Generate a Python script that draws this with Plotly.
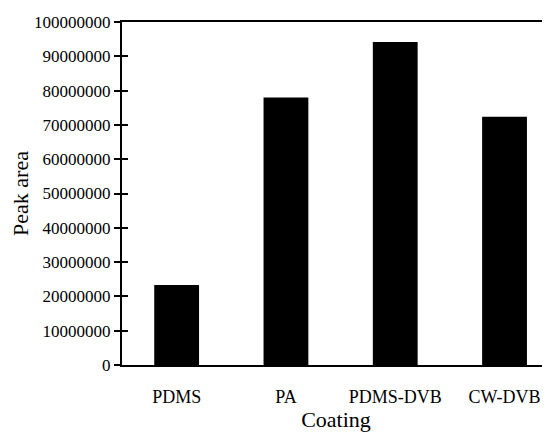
import plotly.graph_objects as go

categories = ["PDMS", "PA", "PDMS-DVB", "CW-DVB"]
peak_area = [23300000, 78000000, 94200000, 72400000]
y_ticks = [0, 10000000, 20000000, 30000000, 40000000, 50000000,
           60000000, 70000000, 80000000, 90000000, 100000000]
y_tick_labels = [str(v) for v in y_ticks]

font_family = "Liberation Serif"

fig = go.Figure()
fig.add_trace(go.Bar(
    x=categories, y=peak_area,
    marker=dict(color="black", line=dict(width=0)),
    width=0.41,
))

# The page body adds an 8px offset, so margins are reduced accordingly.
fig.update_layout(
    width=550, height=432,
    margin=dict(l=114, r=8, t=14, b=75, autoexpand=False),
    paper_bgcolor="white", plot_bgcolor="white",
    showlegend=False,
    font=dict(family=font_family, color="black"),
    xaxis=dict(
        type="category",
        range=[-0.5, 3.416],
        showline=True, linecolor="black", linewidth=2, mirror=True,
        showgrid=False, zeroline=False,
        ticks="", ticklabelstandoff=14,
        tickfont=dict(size=18, family=font_family),
        title=dict(text="Coating", font=dict(size=22, family=font_family), standoff=0),
    ),
    yaxis=dict(
        range=[0, 100000000],
        tickvals=y_ticks, ticktext=y_tick_labels,
        showline=True, linecolor="black", linewidth=2,
        showgrid=False, zeroline=False,
        ticks="outside", ticklen=6, tickwidth=2, tickcolor="black",
        tickfont=dict(size=17, family=font_family),
        title=dict(text="Peak area", font=dict(size=22, family=font_family), standoff=6),
    ),
    yaxis2=dict(
        range=[0, 100000000], overlaying="y", side="left",
        tickvals=y_ticks, showticklabels=False,
        ticks="inside", ticklen=6, tickwidth=2, tickcolor="black",
        showline=False, showgrid=False, zeroline=False,
    ),
)
fig.add_trace(go.Scatter(x=[categories[0]], y=[0], yaxis="y2", mode="markers",
                         marker=dict(opacity=0), hoverinfo="skip"))

fig.write_html("out.html")
